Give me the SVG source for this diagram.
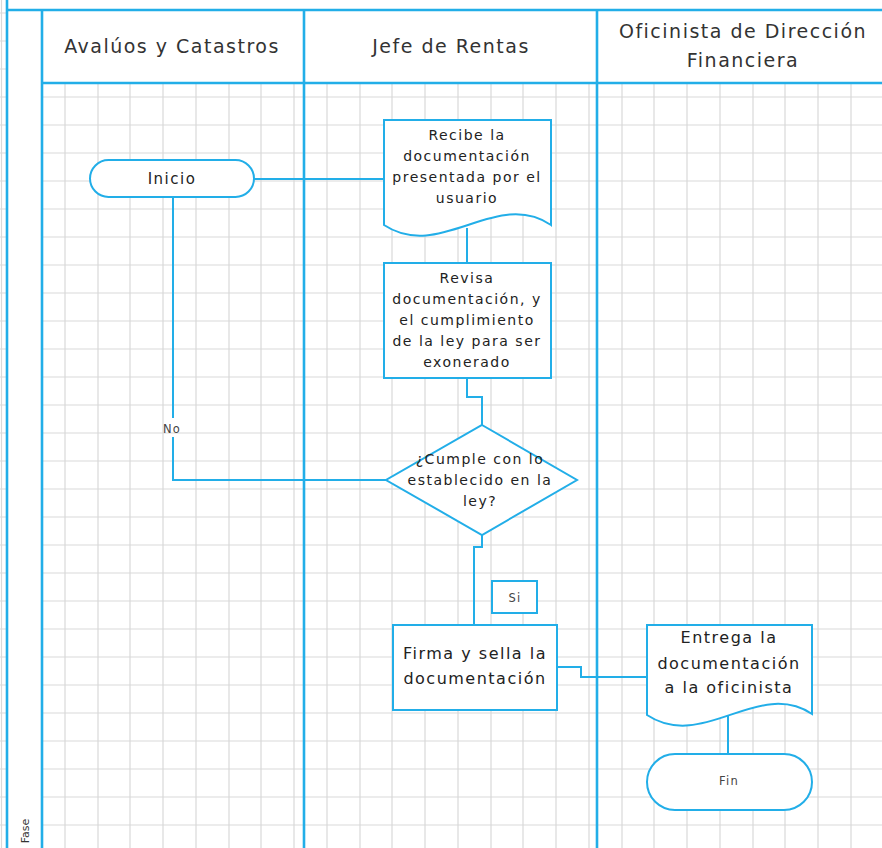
<svg xmlns="http://www.w3.org/2000/svg" width="882" height="848" viewBox="0 0 882 848">
  <defs>
    <style>
      .grid { stroke: #d9d9d9; stroke-width: 1.2; fill: none; }
      .frame { stroke: #22aee8; stroke-width: 2.6; fill: none; }
      .shape { stroke: #22aee8; stroke-width: 2; fill: #ffffff; }
      .conn { stroke: #22aee8; stroke-width: 2; fill: none; }
      text { font-family: "DejaVu Sans", "Liberation Sans", sans-serif; fill: #222222; text-anchor: middle; }
      .head { font-size: 19px; letter-spacing: 1.5px; fill: #333333; }
      .t14 { font-size: 14px; letter-spacing: 1.5px; }
      .t16 { font-size: 16px; letter-spacing: 1.5px; }
      .t15 { font-size: 15px; letter-spacing: 1.5px; }
      .small { font-size: 11.5px; letter-spacing: 1.2px; fill: #444444; }
    </style>
  </defs>

  <rect width="882" height="848" fill="#ffffff"/>

  <!-- background grid of the lane area -->
  <path class="grid" d="M65 83V848M98 83V848M130 83V848M163 83V848M196 83V848M229 83V848M261 83V848M294 83V848M327 83V848M360 83V848M392 83V848M425 83V848M458 83V848M491 83V848M523 83V848M556 83V848M589 83V848M622 83V848M654 83V848M687 83V848M720 83V848M753 83V848M785 83V848M818 83V848M851 83V848
    M42 97H882M42 125H882M42 153H882M42 181H882M42 209H882M42 237H882M42 265H882M42 293H882M42 321H882M42 349H882M42 377H882M42 405H882M42 433H882M42 461H882M42 489H882M42 517H882M42 545H882M42 573H882M42 601H882M42 629H882M42 657H882M42 685H882M42 713H882M42 741H882M42 769H882M42 797H882M42 825H882"/>
  <!-- grid stub left of the frame -->
  <path class="grid" d="M1.5 0V848M0 13H6M0 41H6M0 69H6M0 97H6M0 125H6M0 153H6M0 181H6M0 209H6M0 237H6M0 265H6M0 293H6M0 321H6M0 349H6M0 377H6M0 405H6M0 433H6M0 461H6M0 489H6M0 517H6M0 545H6M0 573H6M0 601H6M0 629H6M0 657H6M0 685H6M0 713H6M0 741H6M0 769H6M0 797H6M0 825H6"/>

  <!-- swimlane frame -->
  <g id="frame">
    <path class="frame" d="M7 0V848M7 10H882M42 10V848M42 83H882M304 10V848M597 10V848"/>
    <text class="head" x="172" y="53">Avalúos y Catastros</text>
    <text class="head" x="451" y="53">Jefe de Rentas</text>
    <text class="head" x="743" y="38">Oficinista de Dirección</text>
    <text class="head" x="743" y="67">Financiera</text>
    <text transform="translate(29,831) rotate(-90)" style="font-size:11px;fill:#333333">Fase</text>
  </g>

  <!-- connectors -->
  <g id="connectors">
    <path class="conn" d="M254 179H384"/>
    <path class="conn" d="M173 197V418"/>
    <path class="conn" d="M173 437V480H386"/>
    <path class="conn" d="M467 228V263"/>
    <path class="conn" d="M467 378V397H482V425"/>
    <path class="conn" d="M482 535V547H474V625"/>
    <path class="conn" d="M557 667H581V677H647"/>
    <path class="conn" d="M728 712V754"/>
    <text class="small" x="172" y="433">No</text>
  </g>

  <g id="inicio">
    <rect class="shape" x="90" y="160" width="164" height="37" rx="18.5"/>
    <text class="t15" x="172" y="184">Inicio</text>
  </g>

  <g id="recibe">
    <path class="shape" d="M384 120H551V225C496 188 440 262 384 225Z"/>
    <text class="t14" x="467"><tspan x="467" y="140">Recibe la</tspan><tspan x="467" y="161">documentación</tspan><tspan x="467" y="182">presentada por el</tspan><tspan x="467" y="203">usuario</tspan></text>
  </g>

  <g id="revisa">
    <rect class="shape" x="384" y="263" width="167" height="115"/>
    <text class="t14" x="467"><tspan x="467" y="283">Revisa</tspan><tspan x="467" y="304">documentación, y</tspan><tspan x="467" y="325">el cumplimiento</tspan><tspan x="467" y="346">de la ley para ser</tspan><tspan x="467" y="367">exonerado</tspan></text>
  </g>

  <g id="cumple">
    <polygon class="shape" points="482,425 577,480 482,535 386,480"/>
    <text class="t14" x="480"><tspan x="480" y="464">¿Cumple con lo</tspan><tspan x="480" y="485">establecido en la</tspan><tspan x="480" y="506">ley?</tspan></text>
  </g>

  <g id="si">
    <rect class="shape" x="492" y="581" width="45" height="32"/>
    <text class="small" x="515" y="602">Si</text>
  </g>

  <g id="firma">
    <rect class="shape" x="393" y="625" width="164" height="85"/>
    <text class="t16" x="475"><tspan x="475" y="659">Firma y sella la</tspan><tspan x="475" y="684">documentación</tspan></text>
  </g>

  <g id="entrega">
    <path class="shape" d="M647 625H812V714C758 678 703 752 647 715Z"/>
    <text class="t16" x="729"><tspan x="729" y="643">Entrega la</tspan><tspan x="729" y="669">documentación</tspan><tspan x="729" y="693">a la oficinista</tspan></text>
  </g>

  <g id="fin">
    <rect class="shape" x="647" y="754" width="165" height="56" rx="28"/>
    <text class="small" x="729" y="785">Fin</text>
  </g>
</svg>
